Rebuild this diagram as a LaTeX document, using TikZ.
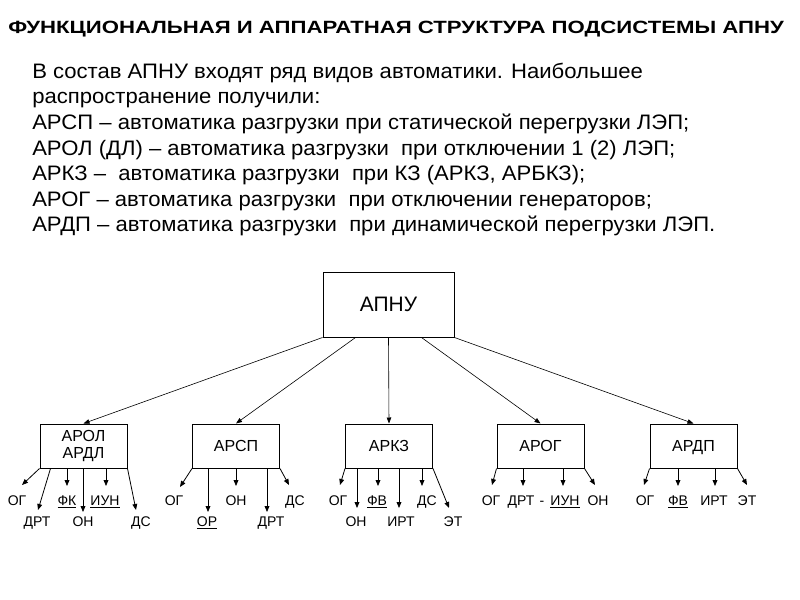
\documentclass[tikz,border=0pt]{standalone}
\usepackage{fontspec}
\setmainfont{Liberation Sans}
\usetikzlibrary{arrows.meta,calc}
\newcommand{\bodyx}[1]{\scalebox{1.055}[1]{#1}}
\begin{document}
\begin{tikzpicture}[x=0.75pt,y=-0.75pt,
  boxbase/.style={draw, line width=0.75pt, inner sep=0pt, minimum width=65.25pt, minimum height=33pt, font=\fontsize{12}{12.4}\selectfont, align=center},
  box/.style={boxbase, text height=8.6pt, text depth=0pt},
  topbox/.style={boxbase, minimum width=98.25pt, minimum height=48.75pt, font=\fontsize{15.7}{18}\selectfont, text height=11.2pt, text depth=0pt},
  leaf/.style={inner sep=0pt, anchor=base, font=\fontsize{10.5}{12}\selectfont},
  bodyline/.style={inner sep=0pt, anchor=base west, font=\fontsize{15.7}{18}\selectfont},
  ttl/.style={inner sep=0pt, anchor=base west, font=\bfseries\fontsize{13.3}{15}\selectfont},
  arr/.style={-{Triangle[length=4.5pt,width=3.6pt]}, line width=0.6pt},
  farr/.style={-{Triangle[length=4.5pt,width=3.4pt]}, line width=0.45pt}]
\useasboundingbox (0,0) rectangle (800,600);
\fill[white] (0,0) rectangle (800,600);

% title and text
\node[ttl] (title) at (8,33) {\scalebox{1.25}[1]{ФУНКЦИОНАЛЬНАЯ И АППАРАТНАЯ СТРУКТУРА ПОДСИСТЕМЫ АПНУ}};
\node[bodyline] (l1) at (32,78.3) {\bodyx{В состав АПНУ входят ряд видов автоматики. Наибольшее}};
\node[bodyline] (l2) at (32,103.8) {\bodyx{распространение получили:}};
\node[bodyline] (l3) at (32,129.4) {\bodyx{АРСП – автоматика разгрузки при статической перегрузки ЛЭП;}};
\node[bodyline] (l4) at (32,155) {\bodyx{АРОЛ (ДЛ) – автоматика разгрузки\ \ при отключении 1 (2) ЛЭП;}};
\node[bodyline] (l5) at (32,180.6) {\bodyx{АРКЗ –\ \ автоматика разгрузки\ \ при КЗ (АРКЗ, АРБКЗ);}};
\node[bodyline] (l6) at (32,206.2) {\bodyx{АРОГ – автоматика разгрузки\ \ при отключении генераторов;}};
\node[bodyline] (l7) at (32,231.8) {\bodyx{АРДП – автоматика разгрузки\ \ при динамической перегрузки ЛЭП.}};

% boxes
\node[topbox] (apnu) at (388.5,304.5) {АПНУ};
\node[boxbase] (b1) at (83.5,446) {АРОЛ\\АРДЛ};
\node[box] (b2) at (236,446) {АРСП};
\node[box] (b3) at (389,446) {АРКЗ};
\node[box] (b4) at (540.5,446) {АРОГ};
\node[box] (b5) at (693.5,446) {АРДП};

\draw[farr] (apnu.south west) -- (b1.north);
\draw[farr] ($(apnu.south west)!0.25!(apnu.south east)$) -- (b2.north);
\draw[farr] (apnu.south) -- (b3.north);
\draw[farr] ($(apnu.south west)!0.75!(apnu.south east)$) -- (b4.north);
\draw[farr] (apnu.south east) -- (b5.north);

% ---- box 1 leaves
\node[leaf] (b1og) at (17,505) {ОГ};
\node[leaf] (b1drt) at (37,526) {ДРТ};
\node[leaf] (b1fk) at (67,505) {\underline{ФК}};
\node[leaf] (b1on) at (83,526) {ОН};
\node[leaf] (b1iun) at (105,505) {\underline{ИУН}};
\node[leaf] (b1ds) at (141,526) {ДС};
\coordinate (t1a) at (22,485);
\coordinate (t1b) at (38,510);
\coordinate (t1c) at (67,486);
\coordinate (t1d) at (83,512);
\coordinate (t1e) at (106,486);
\coordinate (t1f) at (136,510);
\draw[arr] (b1.south west) -- (t1a);
\draw[arr] ($(b1.south west)+(11,0)$) -- (t1b);
\draw[arr] (b1.south -| t1c) -- (t1c);
\draw[arr] (b1.south -| t1d) -- (t1d);
\draw[arr] (b1.south -| t1e) -- (t1e);
\draw[arr] (b1.south east) -- (t1f);

% ---- box 2 leaves
\node[leaf] (b2og) at (174,505) {ОГ};
\node[leaf] (b2or) at (207,526) {\underline{ОР}};
\node[leaf] (b2on) at (236,505) {ОН};
\node[leaf] (b2drt) at (271,526) {ДРТ};
\node[leaf] (b2ds) at (295,505) {ДС};
\coordinate (t2a) at (180,487);
\coordinate (t2b) at (208,512);
\coordinate (t2c) at (236,486);
\coordinate (t2d) at (267,512);
\coordinate (t2e) at (289,485);
\draw[arr] (b2.south west) -- (t2a);
\draw[arr] (b2.south -| t2b) -- (t2b);
\draw[arr] (b2.south -| t2c) -- (t2c);
\draw[arr] (b2.south -| t2d) -- (t2d);
\draw[arr] (b2.south east) -- (t2e);

% ---- box 3 leaves
\node[leaf] (b3og) at (338,505) {ОГ};
\node[leaf] (b3on) at (356,526) {ОН};
\node[leaf] (b3fv) at (377,505) {\underline{ФВ}};
\node[leaf] (b3irt) at (401,526) {ИРТ};
\node[leaf] (b3ds) at (427,505) {ДС};
\node[leaf] (b3et) at (453,526) {ЭТ};
\coordinate (t3a) at (340,485);
\coordinate (t3b) at (357,508);
\coordinate (t3c) at (378,486);
\coordinate (t3d) at (399,508);
\coordinate (t3e) at (422,486);
\coordinate (t3f) at (449,508);
\draw[arr] (b3.south west) -- (t3a);
\draw[arr] (b3.south -| t3b) -- (t3b);
\draw[arr] (b3.south -| t3c) -- (t3c);
\draw[arr] (b3.south -| t3d) -- (t3d);
\draw[arr] (b3.south -| t3e) -- (t3e);
\draw[arr] (b3.south east) -- (t3f);

% ---- box 4 leaves
\node[leaf] (b4og) at (491,505) {ОГ};
\node[leaf] (b4drt) at (521,505) {ДРТ};
\node[leaf] (b4dash) at (542,505) {-};
\node[leaf] (b4iun) at (565,505) {\underline{ИУН}};
\node[leaf] (b4on) at (598,505) {ОН};
\coordinate (t4a) at (492,485);
\coordinate (t4b) at (523,486);
\coordinate (t4c) at (563,486);
\coordinate (t4d) at (595,485);
\draw[arr] (b4.south west) -- (t4a);
\draw[arr] (b4.south -| t4b) -- (t4b);
\draw[arr] (b4.south -| t4c) -- (t4c);
\draw[arr] (b4.south east) -- (t4d);

% ---- box 5 leaves
\node[leaf] (b5og) at (645,505) {ОГ};
\node[leaf] (b5fv) at (678,505) {\underline{ФВ}};
\node[leaf] (b5irt) at (714,505) {ИРТ};
\node[leaf] (b5et) at (747,505) {ЭТ};
\coordinate (t5a) at (644,485);
\coordinate (t5b) at (678,486);
\coordinate (t5c) at (715,486);
\coordinate (t5d) at (747,485);
\draw[arr] (b5.south west) -- (t5a);
\draw[arr] (b5.south -| t5b) -- (t5b);
\draw[arr] (b5.south -| t5c) -- (t5c);
\draw[arr] (b5.south east) -- (t5d);
\end{tikzpicture}
\end{document}
